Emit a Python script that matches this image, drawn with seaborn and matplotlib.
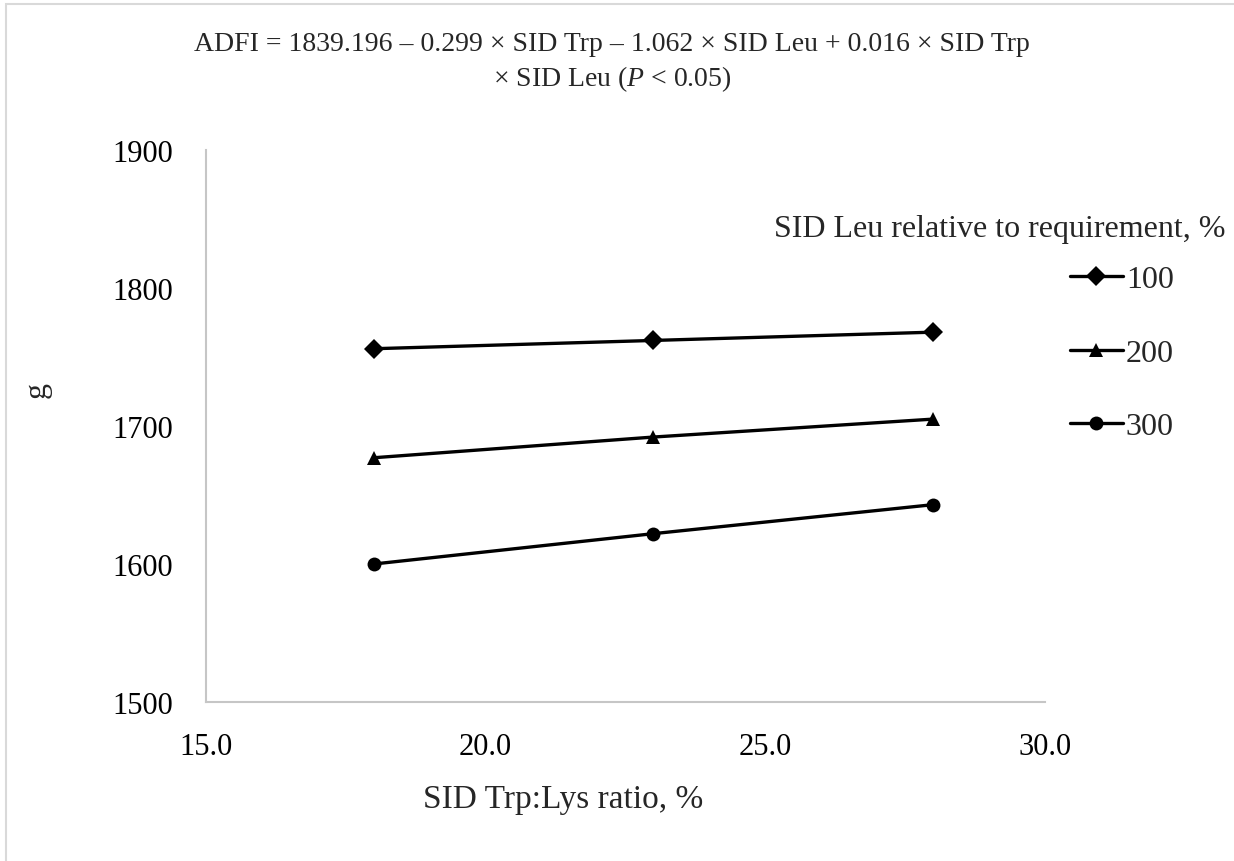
import matplotlib
matplotlib.use("Agg")
import matplotlib.pyplot as plt
from matplotlib.patches import Rectangle
import seaborn as sns
import pandas as pd

# SID Trp:Lys ratio, %
trp_lys = [18.0, 23.0, 28.0]
# ADFI (g) per SID Leu level (% of requirement)
leu_levels = ["100", "200", "300"]
adfi_leu100 = [1756, 1762, 1768]
adfi_leu200 = [1677, 1692, 1705]
adfi_leu300 = [1600, 1622, 1643]

x_ticks = [15.0, 20.0, 25.0, 30.0]
y_ticks = [1500, 1600, 1700, 1800, 1900]

df = pd.DataFrame({
    "trp": trp_lys * 3,
    "adfi": adfi_leu100 + adfi_leu200 + adfi_leu300,
    "leu": [lv for lv in leu_levels for _ in trp_lys],
})

sns.set_theme(style="white")
plt.rcParams["font.family"] = ["Liberation Serif", "DejaVu Serif"]
plt.rcParams["mathtext.fontset"] = "custom"
plt.rcParams["mathtext.rm"] = "Liberation Serif"
plt.rcParams["mathtext.it"] = "Liberation Serif:italic"

GRAY = "#c6c6c6"

fig = plt.figure(figsize=(12.34, 8.62), dpi=100)
ax = fig.add_axes([206 / 1234, 1 - 703 / 862, (1045 - 206) / 1234, (703 - 151) / 862])

sns.lineplot(data=df, x="trp", y="adfi", hue="leu", style="leu",
             markers={"100": "D", "200": "^", "300": "o"}, dashes=False,
             palette=["black"] * 3, linewidth=2.4, markersize=10,
             markeredgewidth=0, ax=ax)

ax.set_xlim(15, 30)
ax.set_ylim(1500, 1900)
ax.set_xticks(x_ticks)
ax.set_xticklabels([f"{v:.1f}" for v in x_ticks], fontsize=22)
ax.set_yticks(y_ticks)
ax.set_yticklabels([str(v) for v in y_ticks], fontsize=22)
ax.tick_params(axis="both", direction="inout", length=19, width=1.5,
               color=GRAY, labelcolor="black")
ax.tick_params(axis="x", pad=12)
ax.tick_params(axis="y", pad=14)
ax.set_xlabel("")
ax.set_ylabel("")
for side in ["top", "right"]:
    ax.spines[side].set_visible(False)
for side in ["left", "bottom"]:
    ax.spines[side].set_color(GRAY)
    ax.spines[side].set_linewidth(1.5)

handles, labels = ax.get_legend_handles_labels()
ax.legend(handles, labels, loc="upper left", bbox_to_anchor=(1070 / 1234, 1 - 266 / 862),
          bbox_transform=fig.transFigure, frameon=False, fontsize=23,
          handlelength=1.65, handletextpad=0.1, labelspacing=1.38,
          borderaxespad=0, borderpad=0)

fig.text(1226 / 1234, 1 - 229 / 862, "SID Leu relative to requirement, %",
         ha="right", va="center", fontsize=23)

fig.text(612 / 1234, 1 - 63 / 862,
         "ADFI = 1839.196 – 0.299 × SID Trp – 1.062 × SID Leu + 0.016 × SID Trp\n"
         r"× SID Leu ($\mathit{P}$ < 0.05)",
         ha="center", va="center", multialignment="center", fontsize=20,
         linespacing=1.3)

fig.text(563 / 1234, 1 - 800 / 862, "SID Trp:Lys ratio, %",
         ha="center", va="center", fontsize=24)
fig.text(37 / 1234, 1 - 390 / 862, "g", rotation=90,
         ha="center", va="center", fontsize=23)

# light frame around the chart area
fig.patches.append(Rectangle((6 / 1234, -0.1), 1.2, 1.1 - 5 / 862,
                             transform=fig.transFigure, fill=False,
                             edgecolor="#d9d9d9", linewidth=1.5))

fig.savefig("out.png", dpi=100)
